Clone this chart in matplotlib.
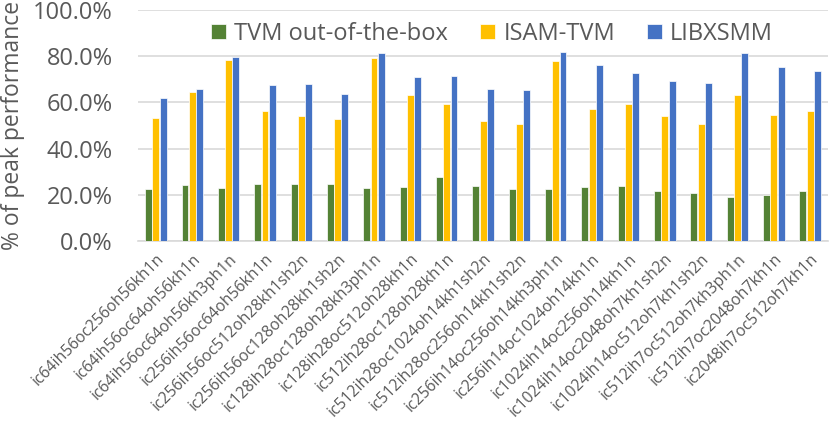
import matplotlib
matplotlib.use("Agg")
import matplotlib.pyplot as plt
import numpy as np
from matplotlib.ticker import PercentFormatter

# Convolution layer configs and % of peak performance
LAYERS = [
    "ic64ih56oc256oh56kh1n", "ic64ih56oc64oh56kh1n", "ic64ih56oc64oh56kh3ph1n",
    "ic256ih56oc64oh56kh1n", "ic256ih56oc512oh28kh1sh2n", "ic256ih56oc128oh28kh1sh2n",
    "ic128ih28oc128oh28kh3ph1n", "ic128ih28oc512oh28kh1n", "ic512ih28oc128oh28kh1n",
    "ic512ih28oc1024oh14kh1sh2n", "ic512ih28oc256oh14kh1sh2n", "ic256ih14oc256oh14kh3ph1n",
    "ic256ih14oc1024oh14kh1n", "ic1024ih14oc256oh14kh1n", "ic1024ih14oc2048oh7kh1sh2n",
    "ic1024ih14oc512oh7kh1sh2n", "ic512ih7oc512oh7kh3ph1n", "ic512ih7oc2048oh7kh1n",
    "ic2048ih7oc512oh7kh1n",
]
tvm = [22.5, 24.1, 23.1, 24.5, 24.8, 24.7, 22.9, 23.2, 27.7, 23.8,
       22.5, 22.5, 23.4, 23.9, 21.5, 20.9, 19.2, 19.9, 21.8]
isam_tvm = [53.4, 64.6, 78.4, 56.3, 54.0, 52.9, 79.4, 63.2, 59.3, 52.1,
            50.8, 77.9, 57.3, 59.3, 54.3, 50.6, 63.2, 54.4, 56.4]
libxsmm = [61.9, 65.8, 79.8, 67.5, 68.1, 63.6, 81.4, 71.1, 71.4, 65.8,
           65.2, 81.8, 76.2, 72.6, 69.4, 68.6, 81.4, 75.3, 73.6]

SERIES = [("TVM out-of-the-box", tvm, "#548235"),
          ("ISAM-TVM", isam_tvm, "#FFC000"),
          ("LIBXSMM", libxsmm, "#4472C4")]

plt.rcParams['font.family'] = ['Open Sans', 'DejaVu Sans']
GRAY = "#595959"

fig = plt.figure(figsize=(8.3, 4.22), dpi=100)
ax = fig.add_axes([0.166, 0.429, 0.832, 0.547])

x = np.arange(len(LAYERS))
w = 0.19
for i, (name, vals, col) in enumerate(SERIES):
    ax.bar(x + (i - 1) * (w + 0.01), vals, width=w, color=col, label=name,
           edgecolor="white", linewidth=0.5, zorder=3)

ax.set_xlim(-0.5, len(LAYERS) - 0.5)
ax.set_ylim(0, 100)
ax.set_yticks(np.arange(0, 101, 20))
ax.yaxis.set_major_formatter(PercentFormatter(decimals=1))
ax.grid(axis="y", color="#d9d9d9", linewidth=1.2, zorder=0)
for s in ["left", "right", "top"]:
    ax.spines[s].set_visible(False)
ax.spines["bottom"].set_color("#d9d9d9")
ax.spines["bottom"].set_linewidth(1.2)
ax.tick_params(axis="both", length=0, colors=GRAY)
ax.tick_params(axis="y", labelsize=17, pad=18)
ax.tick_params(axis="x", pad=7)
ax.set_xticks(x)
ax.set_xticklabels(LAYERS, rotation=45, ha="right", rotation_mode="anchor",
                   fontsize=11.3, color=GRAY)
ax.set_ylabel("% of peak performance", fontsize=16.5, color=GRAY, labelpad=6)

ax.legend(loc="upper center", bbox_to_anchor=(0.513, 1.01), ncol=3, frameon=True,
          framealpha=1, edgecolor="none", fontsize=17, labelcolor=GRAY,
          handlelength=0.63, handleheight=0.63, columnspacing=1.35,
          handletextpad=0.35, borderpad=0.1)

fig.savefig("out.png", dpi=100)
